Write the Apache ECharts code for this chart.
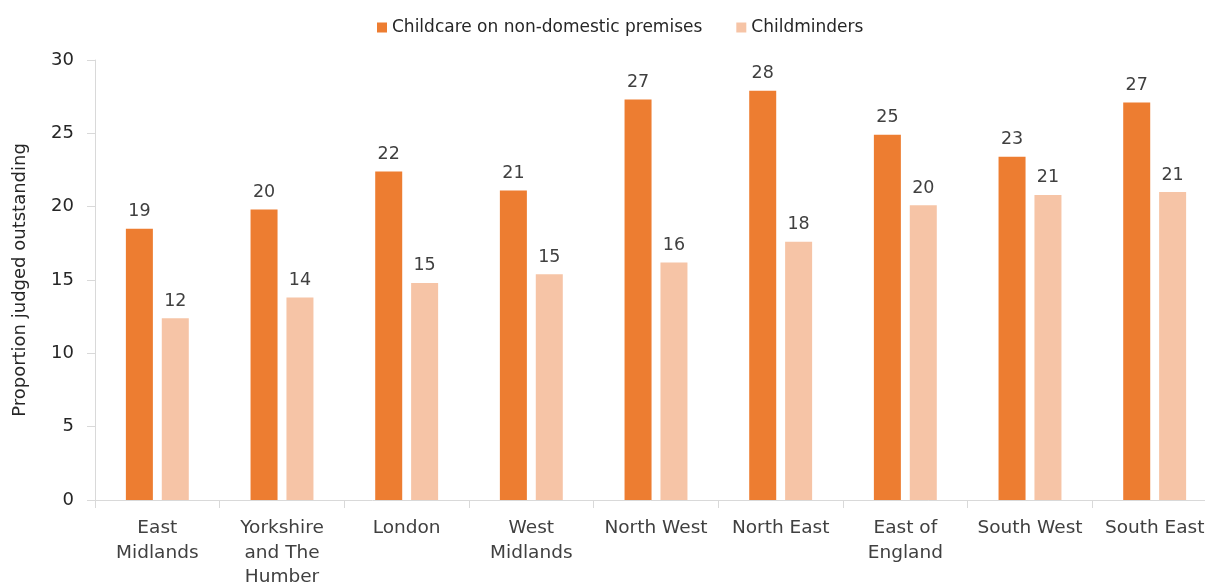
<!DOCTYPE html>
<html>
<head>
<meta charset="utf-8">
<script src="https://cdn.jsdelivr.net/npm/echarts@6/dist/echarts.min.js"></script>
<style>html,body{margin:0;padding:0;background:#fff}#c{width:1205px;height:586px}</style>
</head>
<body>
<div id="c"></div>
<script>
const categories = ['East\nMidlands','Yorkshire\nand The\nHumber','London','West\nMidlands','North West','North East','East of\nEngland','South West','South East'];
const seriesNames = ['Childcare on non-domestic premises','Childminders'];
const nonDomestic = [18.5, 19.8, 22.4, 21.1, 27.3, 27.9, 24.9, 23.4, 27.1];
const childminders = [12.4, 13.8, 14.8, 15.4, 16.2, 17.6, 20.1, 20.8, 21.0];
const yTicks = {min: 0, max: 30, interval: 5};

const font = 'Tahoma, "DejaVu Sans", Verdana, sans-serif';
const chart = echarts.init(document.getElementById('c'), null, {renderer: 'canvas'});
const labelOpt = {show: true, position: 'top', distance: 8, color: '#404040', fontSize: 17.5, fontFamily: font,
  formatter: p => Math.round(p.value)};
chart.setOption({
  animation: false,
  textStyle: {fontFamily: font},
  legend: {
    top: 14, left: 372, itemWidth: 10, itemHeight: 10, itemGap: 34,
    icon: 'rect',
    textStyle: {fontSize: 17, color: '#262626', fontFamily: font},
    data: seriesNames
  },
  grid: {left: 95, top: 60, width: 1122, height: 440, containLabel: false, outerBoundsMode: 'none'},
  xAxis: {
    type: 'category', data: categories,
    axisLine: {lineStyle: {color: '#d9d9d9', width: 1}},
    axisTick: {show: true, length: 8, lineStyle: {color: '#d9d9d9'}},
    axisLabel: {color: '#404040', fontSize: 18.5, fontFamily: font, margin: 16, lineHeight: 24.5, interval: 0}
  },
  yAxis: {
    type: 'value', min: yTicks.min, max: yTicks.max, interval: yTicks.interval,
    name: 'Proportion judged outstanding', nameLocation: 'middle', nameGap: 66,
    nameTextStyle: {color: '#262626', fontSize: 18, fontFamily: font},
    axisLine: {show: true, lineStyle: {color: '#d9d9d9'}},
    axisTick: {show: true, length: 8, lineStyle: {color: '#d9d9d9'}},
    splitLine: {show: false},
    axisLabel: {color: '#262626', fontSize: 18, fontFamily: font, margin: 21}
  },
  series: [
    {name: seriesNames[0], type: 'bar', data: nonDomestic, barWidth: 27, barGap: '33%',
     itemStyle: {color: '#ED7D31'}, label: labelOpt},
    {name: seriesNames[1], type: 'bar', data: childminders, barWidth: 27,
     itemStyle: {color: '#F6C4A6'}, label: labelOpt}
  ]
});
</script>
</body>
</html>
